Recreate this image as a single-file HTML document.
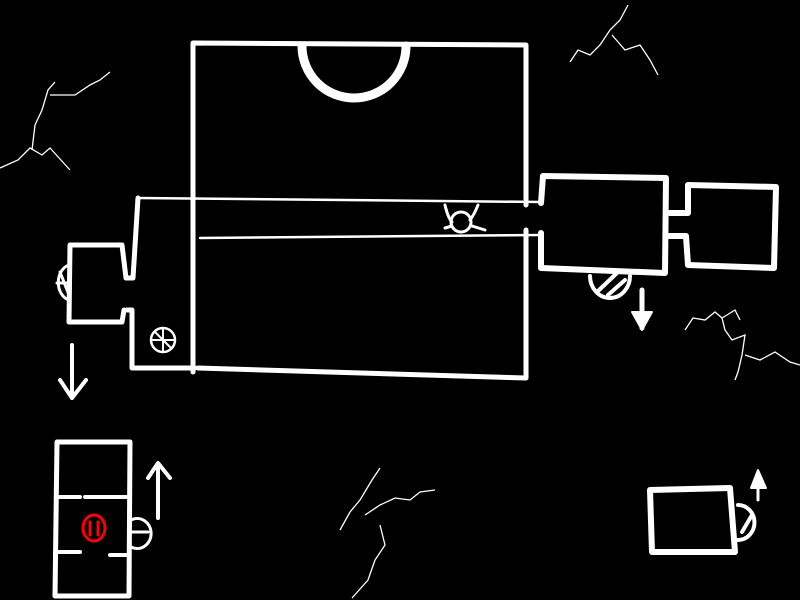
<!DOCTYPE html>
<html><head><meta charset="utf-8"><style>html,body{margin:0;background:#000;width:800px;height:600px;overflow:hidden}</style></head>
<body>
<svg width="800" height="600" viewBox="0 0 800 600" xmlns="http://www.w3.org/2000/svg">
<rect width="800" height="600" fill="#000"/>
<g fill="none" stroke="#fff" stroke-linecap="round" stroke-linejoin="round">
<!-- big top room -->
<path d="M193,43 L526,45 L526,205 M193,43 L193,372 M526,230 L526,378 L198,368" stroke-width="5"/>
<!-- semicircle top -->
<path d="M302,46 A52,52 0 0 0 406,46" stroke-width="9"/>
<!-- corridor lines -->
<path d="M137,198 L540,202 M200,238 L540,235" stroke-width="2.5"/>
<!-- tall left room -->
<path d="M138,198 L133,278 L126,278 M127,310 L132,310 L132,368 L195,368" stroke-width="5"/>
<!-- small left room -->
<path d="M126,278 L122,245 L70,245 L69,322 L122,322 L124,310" stroke-width="5"/>
<path d="M69,265 A14,18 0 0 0 69,300 M57,283 L69,283 M60,272 L69,295" stroke-width="3"/>
<!-- globe -->
<circle cx="163" cy="340" r="12" stroke-width="2.5"/>
<path d="M151,340 L175,340 M163,328 L163,352 M155,332 L171,348" stroke-width="2"/>
<!-- corridor icon -->
<circle cx="461" cy="222" r="10" stroke-width="3"/>
<path d="M445,205 Q448,218 452,222 M478,205 Q474,215 470,220 M445,228 L452,226 M485,230 L472,226" stroke-width="3"/>
<!-- right room -->
<path d="M541,203 L543,176 L666,178 L665,273 L541,268 L541,233" stroke-width="6"/>
<path d="M666,213 L688,213 L688,185 L776,187 L774,268 L688,265 L686,236 L666,236" stroke-width="6"/>
<path d="M590,276 A20,22 0 0 0 630,276 M597,292 L618,272 M608,295 L625,280" stroke-width="4"/>
<!-- down arrows -->
<path d="M642,290 L642,328" stroke-width="5"/>
<path d="M632,312 L642,330 L652,312 Z" fill="#fff" stroke-width="2"/>
<path d="M72,345 L72,398 M60,380 L72,398 L86,380" stroke-width="4"/>
<!-- bottom left room -->
<path d="M57,442 L130,442 L129,596 L55,596 Z" stroke-width="5"/>
<path d="M57,497 L80,497 M85,497 L128,497 M57,552 L80,552 M110,555 L128,555" stroke-width="4"/>
<path d="M131,520 A14,15 0 1 1 131,547 M130,532 L148,532" stroke-width="3"/>
<path d="M158,518 L158,465 M148,478 L158,463 L170,478" stroke-width="4"/>
<ellipse cx="94" cy="528" rx="11" ry="13" stroke="#f00" stroke-width="3"/>
<path d="M90,522 L90,535 M98,522 L98,535" stroke="#f00" stroke-width="3"/>
<!-- bottom right room -->
<path d="M650,490 L730,488 L735,552 L652,552 Z" stroke-width="6"/>
<path d="M738,505 A16,17 0 0 1 738,540 M742,532 L752,515" stroke-width="4"/>
<path d="M758,500 L758,478" stroke-width="3"/>
<path d="M751,488 L758,470 L766,488 Z" fill="#fff" stroke-width="2"/>
</g>
<!-- cracks -->
<g fill="none" stroke="#fff" stroke-width="1.3">
<path d="M0,168 L18,160 L30,148 L42,155 L50,148 L70,170 M32,150 L35,125 L42,110 L48,90 L55,82 M50,95 L75,95 L90,85 L100,80 L110,72"/>
<path d="M570,62 L578,50 L590,55 L600,45 L610,30 L620,20 L628,5 M612,35 L625,50 L640,45 L650,60 L658,75"/>
<path d="M685,330 L693,318 L705,320 L715,312 L722,318 L725,330 L732,340 L745,335 L742,355 L738,372 L735,380 M745,355 L760,360 L775,352 L790,362 L800,365 M722,318 L735,310 L740,320"/>
<path d="M340,530 L350,512 L360,500 L372,480 L380,468 M365,515 L380,505 L395,498 L410,500 L420,492 L435,490 M380,525 L385,545 L375,560 L368,580 L352,598"/>
</g>
</svg>
</body></html>
